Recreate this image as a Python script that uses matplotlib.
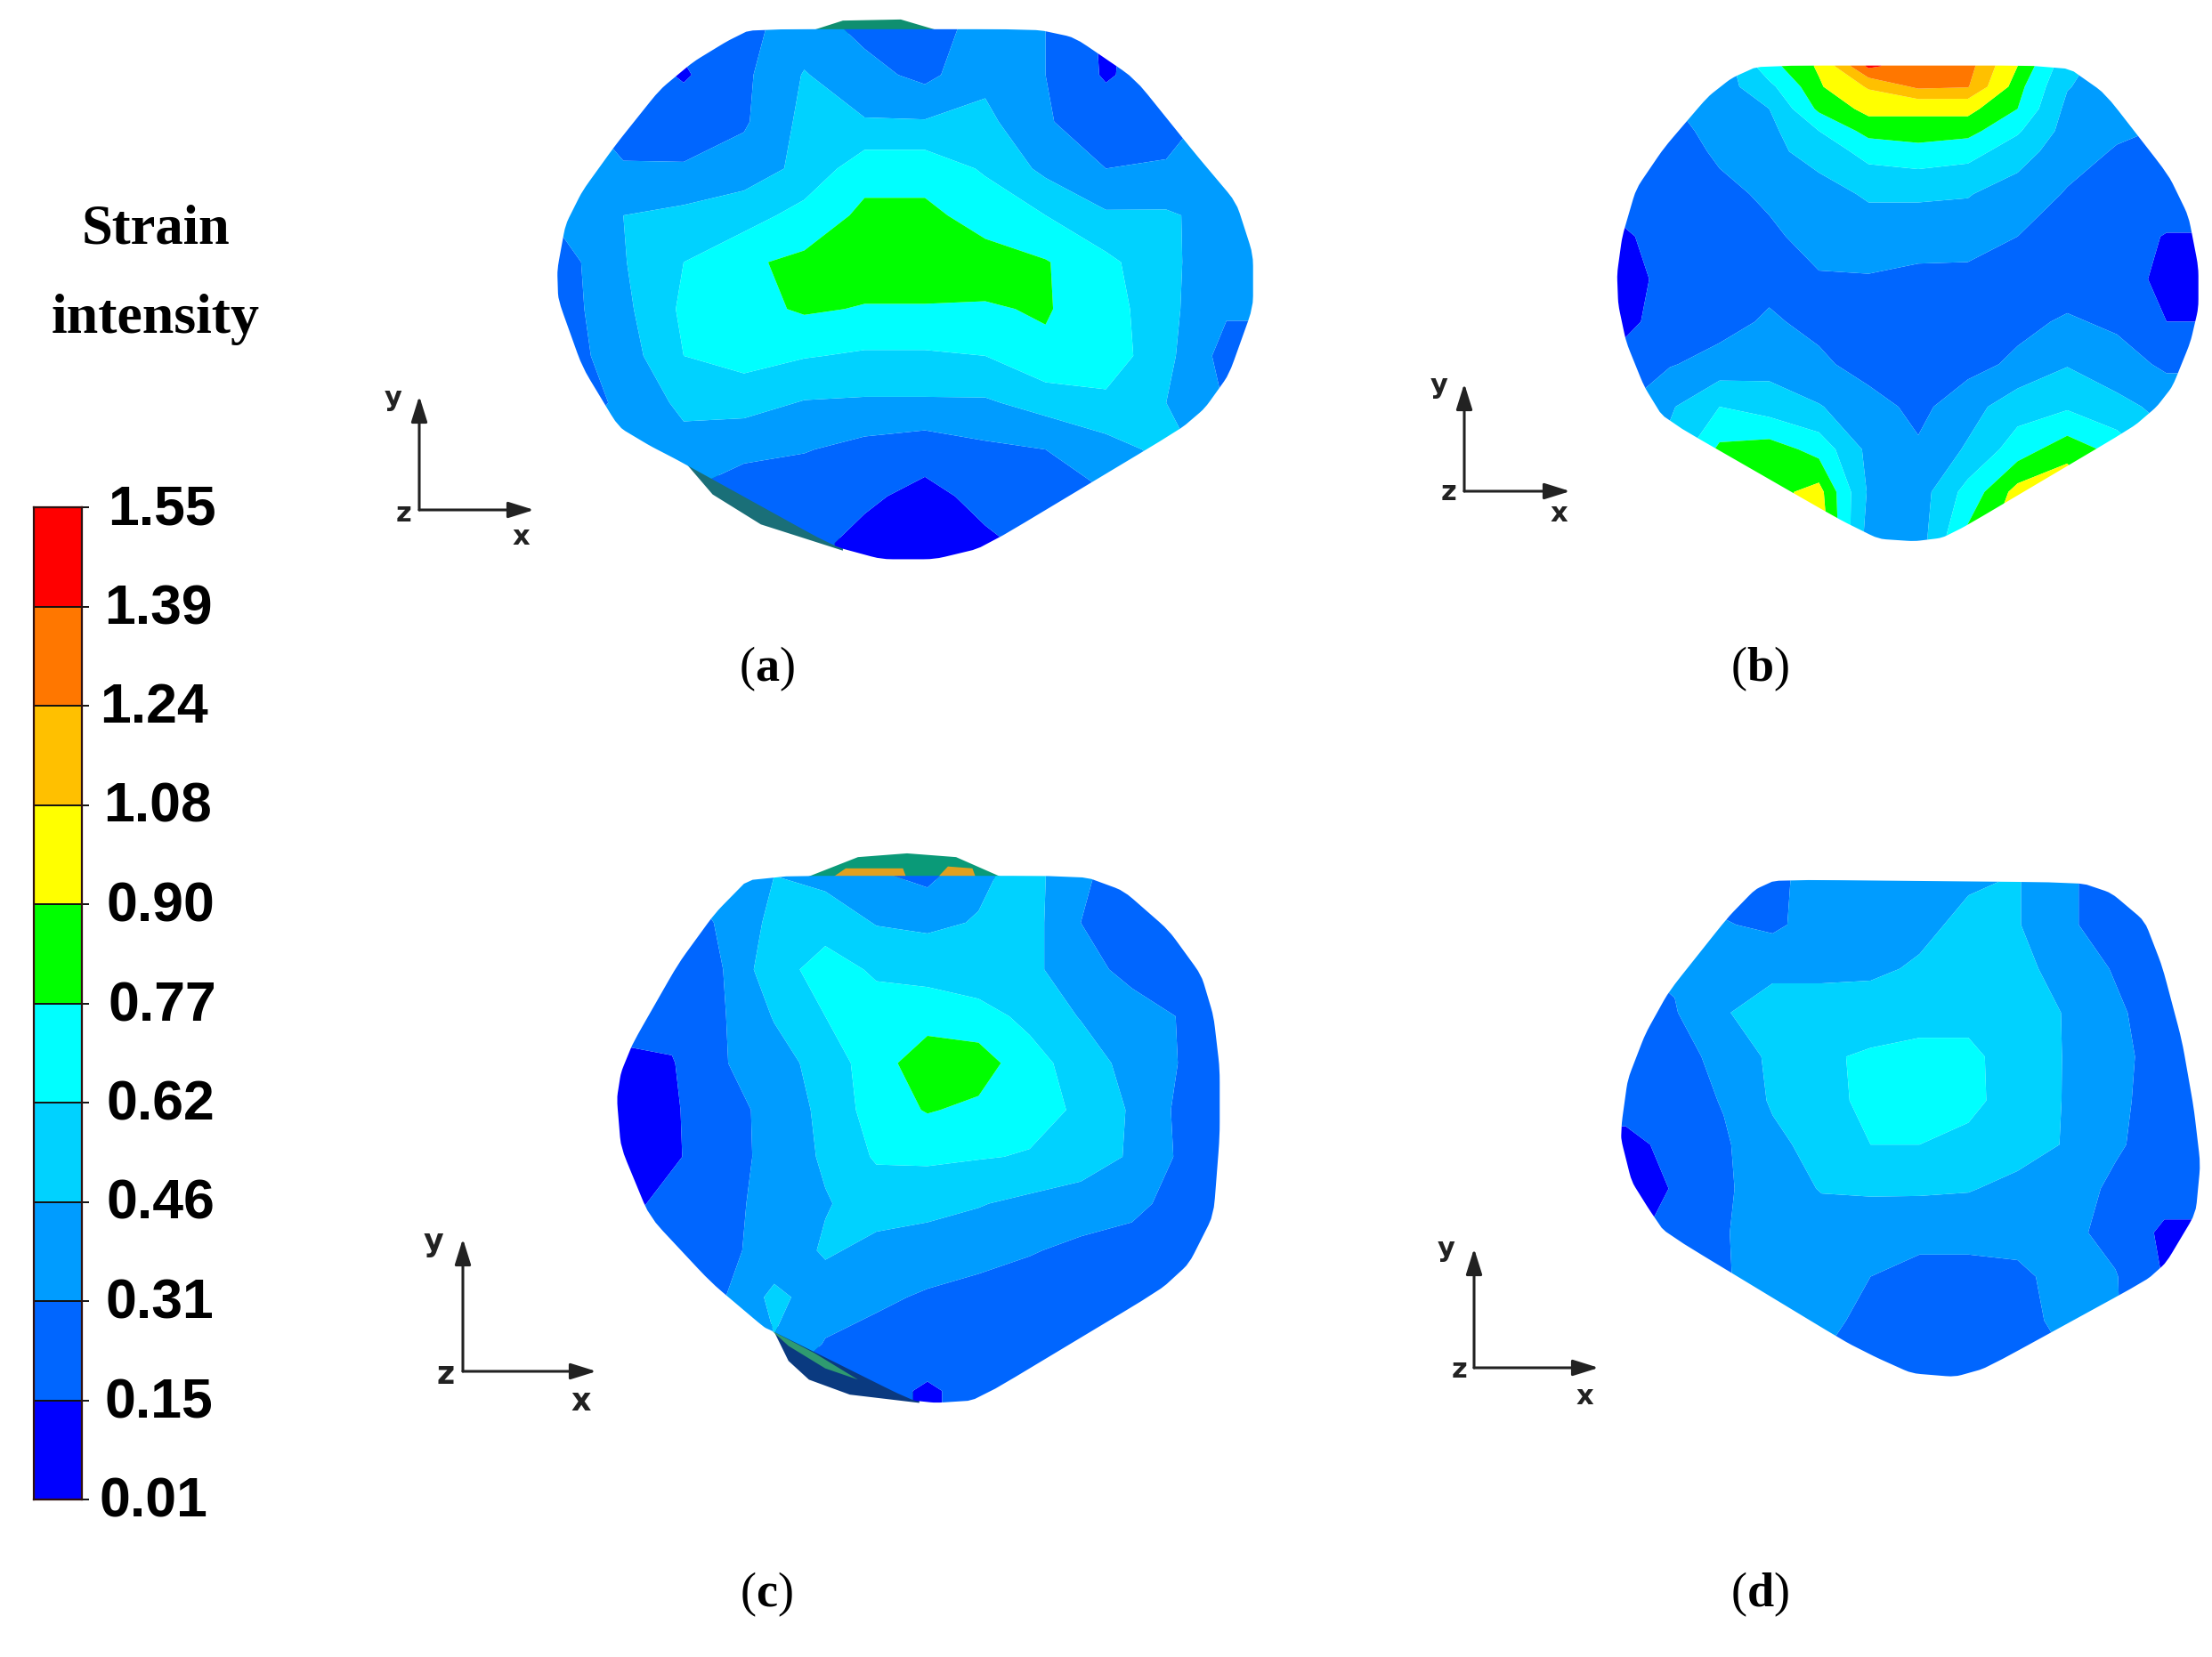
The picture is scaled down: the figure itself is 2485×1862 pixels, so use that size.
import numpy as np
import matplotlib
matplotlib.use("Agg")
import matplotlib.pyplot as plt
from matplotlib.patches import Polygon

W, H = 2485, 1862
plt.rcParams['mathtext.fontset'] = 'custom'
plt.rcParams['mathtext.rm'] = 'Liberation Serif'
plt.rcParams['mathtext.bf'] = 'Liberation Serif:bold'

levels = [0.01, 0.15, 0.31, 0.46, 0.62, 0.77, 0.90, 1.08, 1.24, 1.39, 1.55]
level_labels = ['0.01', '0.15', '0.31', '0.46', '0.62', '0.77', '0.90', '1.08', '1.24', '1.39', '1.55']
band_colors = ['#0000ff', '#0066ff', '#009cff', '#00d2ff', '#00ffff', '#00ff00',
               '#ffff00', '#ffc000', '#ff7700', '#ff0000']

# ---- strain intensity (rows top to bottom, columns left to right)
u_std = [60, 185, 310, 435, 560, 685, 810, 935, 1060, 1185, 1310, 1435]

a_v = [75, 200, 325, 450, 575, 700, 825, 950, 1075, 1200, 1325, 1450]
a_values = [
    [.25, .25, .20, .27, .38, .27, .25, .36, .31, .12, .25, .30],
    [.30, .25, .13, .28, .47, .36, .27, .42, .31, .13, .25, .30],
    [.35, .26, .25, .29, .50, .47, .47, .50, .32, .25, .27, .35],
    [.35, .32, .32, .38, .50, .72, .72, .60, .42, .31, .32, .38],
    [.36, .46, .50, .55, .68, .80, .80, .72, .62, .48, .48, .40],
    [.25, .45, .62, .75, .80, .85, .85, .82, .78, .66, .50, .35],
    [.25, .42, .65, .72, .79, .76, .76, .76, .78, .70, .50, .33],
    [.25, .38, .62, .68, .63, .60, .60, .62, .75, .72, .50, .25],
    [.25, .33, .50, .52, .45, .44, .44, .44, .52, .58, .46, .30],
    [.30, .38, .40, .34, .32, .26, .22, .28, .31, .40, .50, .40],
    [.30, .30, .30, .24, .20, .18, .10, .20, .22, .30, .40, .40],
    [.20, .20, .20, .20, .20, .10, .06, .12, .20, .25, .30, .30],
]
a_outline = [(450, 78), (1040, 78), (1120, 100), (1245, 210), (1370, 410), (1455, 540), (1490, 680),
             (1490, 820), (1440, 1000), (1390, 1090), (1340, 1145), (930, 1462), (830, 1493), (720, 1493),
             (620, 1458), (300, 1230), (240, 1190), (175, 1140), (100, 980), (50, 800), (48, 720), (65, 600),
             (100, 510), (170, 385), (260, 240), (330, 165), (400, 110)]

b_u = [90, 215, 340, 465, 590, 715, 840, 965, 1090, 1215, 1340, 1465]
b_v = [90, 150, 215, 280, 340, 465, 590, 715, 840, 965, 1090, 1215, 1340, 1465]
b_values = [
    [.20, .30, .35, .72, .92, 1.42, 1.30, 1.30, .90, .52, .35, .30],
    [.30, .30, .38, .58, .88, 1.10, 1.27, 1.25, .82, .47, .36, .30],
    [.30, .30, .36, .46, .80, .94, .93, .94, .77, .42, .33, .30],
    [.28, .28, .34, .42, .62, .82, .84, .82, .64, .40, .33, .30],
    [.25, .25, .33, .42, .52, .68, .72, .68, .54, .36, .30, .30],
    [.22, .22, .28, .33, .40, .48, .48, .47, .38, .30, .25, .25],
    [.12, .22, .25, .29, .35, .38, .38, .37, .31, .25, .22, .14],
    [.08, .20, .24, .27, .30, .30, .27, .27, .25, .23, .20, .12],
    [.10, .22, .26, .33, .27, .22, .22, .22, .27, .33, .28, .15],
    [.20, .30, .36, .40, .34, .25, .22, .26, .34, .45, .38, .28],
    [.30, .44, .62, .55, .47, .37, .27, .40, .55, .60, .50, .42],
    [.30, .50, .80, .84, .72, .42, .33, .48, .70, .85, .72, .50],
    [.30, .50, .85, .85, .95, .44, .38, .68, .95, 1.00, .80, .50],
    [.30, .50, .85, .85, 1.00, .40, .38, .80, 1.00, 1.00, .80, .50],
]
b_outline = [(440, 88), (1210, 88), (1310, 170), (1470, 410), (1520, 530), (1545, 680), (1545, 800),
             (1525, 900), (1480, 1030), (1440, 1090), (1380, 1150), (960, 1440), (900, 1475), (830, 1485),
             (740, 1478), (640, 1420), (200, 1125), (150, 1030), (105, 900), (85, 790), (82, 700), (95, 590),
             (130, 450), (200, 330), (310, 180), (370, 125)]

c_v = [105, 230, 355, 480, 605, 730, 855, 980, 1105, 1230, 1355, 1480]
c_values = [
    [.25, .30, .35, .46, .41, .33, .27, .43, .52, .33, .25, .20],
    [.20, .22, .33, .50, .56, .45, .43, .47, .52, .31, .25, .20],
    [.20, .20, .31, .56, .68, .60, .56, .52, .50, .36, .27, .25],
    [.20, .20, .30, .47, .62, .68, .72, .68, .58, .45, .37, .30],
    [.12, .14, .30, .40, .52, .72, .84, .84, .68, .55, .40, .30],
    [.08, .13, .25, .36, .50, .70, .78, .74, .67, .60, .44, .27],
    [.08, .13, .23, .37, .48, .64, .65, .63, .61, .55, .44, .28],
    [.10, .20, .26, .37, .45, .52, .50, .47, .42, .38, .35, .25],
    [.20, .22, .28, .36, .48, .42, .40, .36, .32, .28, .25, .20],
    [.25, .28, .30, .50, .38, .34, .29, .26, .24, .22, .20, .20],
    [.25, .28, .30, .45, .30, .25, .23, .22, .22, .22, .20, .20],
    [.25, .28, .30, .30, .22, .20, .13, .20, .22, .22, .20, .20],
]
c_outline = [(380, 105), (1190, 105), (1290, 145), (1400, 250), (1480, 370), (1510, 480), (1525, 620),
             (1525, 800), (1510, 1010), (1450, 1140), (1380, 1210), (930, 1505), (830, 1512), (770, 1505),
             (430, 1320), (410, 1310), (280, 1190), (130, 1015), (60, 830), (50, 700), (60, 630), (90, 550),
             (200, 340), (290, 205)]

d_v = [75, 200, 325, 450, 575, 700, 825, 950, 1075, 1200, 1325, 1450]
d_values = [
    [.25, .25, .25, .27, .38, .33, .38, .44, .47, .33, .25, .25],
    [.30, .33, .32, .28, .38, .40, .42, .50, .47, .33, .25, .20],
    [.30, .33, .42, .43, .43, .43, .48, .54, .52, .38, .30, .25],
    [.25, .30, .45, .52, .52, .54, .58, .58, .54, .45, .33, .25],
    [.20, .25, .36, .49, .60, .64, .65, .65, .56, .45, .35, .25],
    [.22, .24, .32, .48, .58, .65, .67, .66, .55, .45, .34, .25],
    [.10, .20, .29, .42, .52, .62, .62, .58, .52, .45, .33, .24],
    [.08, .16, .29, .38, .47, .48, .48, .47, .42, .38, .28, .22],
    [.10, .22, .30, .38, .38, .37, .36, .36, .36, .35, .26, .12],
    [.20, .25, .30, .36, .36, .31, .26, .26, .28, .36, .32, .14],
    [.25, .25, .31, .36, .36, .26, .22, .22, .25, .36, .32, .20],
    [.25, .25, .31, .36, .30, .22, .20, .20, .22, .30, .30, .20],
]
d_outline = [(445, 72), (1220, 80), (1300, 110), (1385, 190), (1430, 320), (1480, 530), (1510, 720),
             (1527, 880), (1515, 1020), (1440, 1160), (1390, 1210), (980, 1460), (900, 1485), (790, 1475),
             (700, 1430), (620, 1385), (160, 1075), (120, 1010), (75, 930), (48, 810), (50, 760), (65, 640),
             (110, 510), (170, 390), (320, 180), (390, 100)]

# bulges of the deformed specimen seen behind the section
a_caps = [([(555, 90), (640, 55), (760, 52), (860, 90)], '#0f8f70'),
          ([(300, 1215), (370, 1320), (470, 1400), (640, 1470), (640, 1440)], '#1a6f78')]
c_caps = [([(500, 115), (640, 55), (760, 45), (880, 55), (1005, 115)], '#0a9a78'),
          ([(570, 115), (610, 85), (750, 85), (760, 115)], '#e0a020'),
          ([(830, 115), (860, 80), (920, 85), (930, 115)], '#e0a020'),
          ([(425, 1300), (470, 1400), (520, 1450), (620, 1490), (790, 1512), (790, 1490)], '#0a3a80'),
          ([(430, 1320), (535, 1380), (640, 1450), (560, 1420), (470, 1360)], '#2f9a70')]

# section frames on the page: left, top, width, height of the 1568-unit reading box
frames = {'a': (600, 0, 850, 660), 'b': (1780, 40, 700, 600),
          'c': (670, 940, 720, 660), 'd': (1800, 960, 690, 620)}

# coordinate triads: origin, y tip, x tip, labels y, z, x, text size
triads = [((471, 573), (471, 445), (600, 573), (442, 447), (453, 577), (585, 603), 22),
          ((1645, 552), (1645, 431), (1764, 552), (1617, 433), (1628, 553), (1751, 578), 22),
          ((520, 1541), (520, 1392), (670, 1541), (487, 1396), (501, 1545), (653, 1575), 25),
          ((1656, 1537), (1656, 1403), (1796, 1537), (1625, 1403), (1639, 1540), (1780, 1569), 22)]

captions = [('a', 861, 752), ('b', 1977, 752), ('c', 861, 1792), ('d', 1977, 1792)]
label_right = [233, 239, 240, 241, 241, 243, 241, 238, 234, 239, 243]

fig = plt.figure(figsize=(W / 100, H / 100), dpi=100, facecolor='white')
ax = fig.add_axes([0, 0, 1, 1])
ax.set_xlim(0, W)
ax.set_ylim(H, 0)
ax.axis('off')


def place(u, v, frame):
    x0, y0, w, h = frame
    return x0 + np.asarray(u, float) * w / 1568, y0 + np.asarray(v, float) * h / 1568


def rounded(points, passes=2, cut=0.12):
    p = np.asarray(points, float)
    for _ in range(passes):
        q = np.roll(p, -1, axis=0)
        p = np.column_stack([(1 - cut) * p + cut * q, cut * p + (1 - cut) * q]).reshape(-1, 2)
    return p


def draw_section(u, v, values, outline, frame, caps=()):
    for pts, col in caps:
        px, py = place(*zip(*pts), frame)
        ax.add_patch(Polygon(np.c_[px, py], closed=True, fc=col, ec='none', zorder=1))
    arr = np.pad(np.array(values), 1, mode='edge')
    uu = np.r_[u[0] - 120, u, u[-1] + 140]
    vv = np.r_[v[0] - 60, v, v[-1] + 140]
    px, py = place(uu, vv, frame)
    cs = ax.contourf(px, py, arr, levels=levels, colors=band_colors, zorder=2, antialiased=True)
    ox, oy = place(*zip(*rounded(outline)), frame)
    clip = Polygon(np.c_[ox, oy], closed=True, transform=ax.transData, fc='none', ec='none')
    ax.add_patch(clip)
    cs.set_clip_path(clip)


draw_section(u_std, a_v, a_values, a_outline, frames['a'], a_caps)
draw_section(b_u, b_v, b_values, b_outline, frames['b'])
draw_section(u_std, c_v, c_values, c_outline, frames['c'], c_caps)
draw_section(u_std, d_v, d_values, d_outline, frames['d'])

for o, yt, xt, ly, lz, lx, size in triads:
    for tip in (yt, xt):
        ax.annotate('', xy=tip, xytext=o,
                    arrowprops=dict(arrowstyle='-|>,head_length=0.8,head_width=0.25', color='#222222',
                                    lw=2.2, shrinkA=0, shrinkB=0, mutation_scale=22))
    for pos, s in ((ly, 'y'), (lz, 'z'), (lx, 'x')):
        ax.text(pos[0], pos[1], s, ha='center', va='center', fontsize=size,
                fontweight='bold', family='DejaVu Sans', color='#222222')

for letter, x, y in captions:
    ax.text(x, y, '($\\mathbf{%s}$)' % letter, ha='center', va='center', fontsize=39,
            family='Liberation Serif', color='black')

ax.text(175, 259, 'Strain', ha='center', va='center', fontsize=45, fontweight='bold',
        family='Liberation Serif', color='black')
ax.text(175, 359, 'intensity', ha='center', va='center', fontsize=46, fontweight='bold',
        family='Liberation Serif', color='black')

# colour bar
bar_top, bar_bottom = 570, 1685
cb = fig.add_axes([38 / W, 1 - bar_bottom / H, 54 / W, (bar_bottom - bar_top) / H])
cb.pcolormesh([0, 1], np.arange(len(levels)), np.arange(len(band_colors))[:, None],
              cmap=matplotlib.colors.ListedColormap(band_colors), edgecolors='none')
cb.set_xticks([])
cb.set_yticks(np.arange(len(levels)))
cb.yaxis.tick_right()
cb.set_yticklabels([])
cb.tick_params(axis='y', length=6, width=1.4, color='#111111')
for s in cb.spines.values():
    s.set_linewidth(1.6)
    s.set_color('#301010')
for i in range(1, len(levels) - 1):
    cb.axhline(i, color='#111111', lw=1.4)
for i, (lab, right) in enumerate(zip(level_labels, label_right)):
    y = bar_bottom - (bar_bottom - bar_top) * i / (len(levels) - 1)
    ax.text(right, y + 3, lab, ha='right', va='center', fontsize=45, fontweight='bold',
            family='Liberation Sans', color='black')

fig.savefig('out.png', dpi=100, facecolor='white')
